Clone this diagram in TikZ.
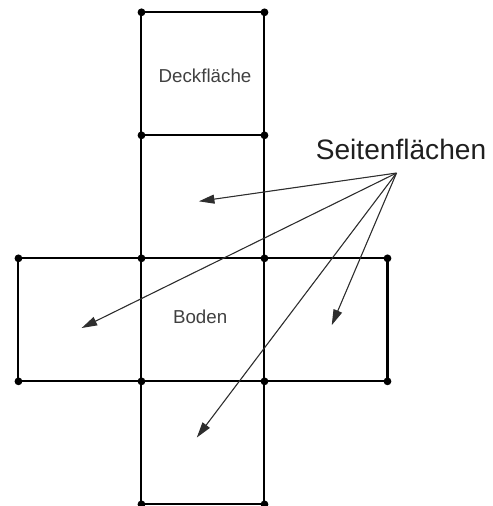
\documentclass[tikz,border=0pt]{standalone}
\usepackage{fontspec}
\setmainfont{Liberation Sans}
\usepackage{tikz}
\usetikzlibrary{arrows.meta,calc}
\tikzset{
  >={Triangle[length=3.8mm,width=2.2mm]},
  netline/.style={line width=1.4pt,line cap=round},
  dot/.style={circle,fill,inner sep=0pt,minimum size=1.9mm},
  face/.style={font=\fontsize{13}{15}\selectfont,text=black!75},
  title/.style={font=\fontsize{19.5}{22}\selectfont,text=black!88},
  pointer/.style={->,line width=0.75pt,draw=black!82,fill=black!82}
}

\begin{document}
\begin{tikzpicture}
  \useasboundingbox (-0.45,-0.04) rectangle (11.57,12.30);

  % Corner points of the net
  \coordinate (b4) at (3,12);  \coordinate (c4) at (6,12);
  \coordinate (b3) at (3,9);   \coordinate (c3) at (6,9);
  \coordinate (a2) at (0,6);   \coordinate (b2) at (3,6);
  \coordinate (c2) at (6,6);   \coordinate (d2) at (9,6);
  \coordinate (a1) at (0,3);   \coordinate (b1) at (3,3);
  \coordinate (c1) at (6,3);   \coordinate (d1) at (9,3);
  \coordinate (b0) at (3,0);   \coordinate (c0) at (6,0);

  % Edges of the net
  \draw[netline] (b4) -- (c4);
  \draw[netline] (b3) -- (c3);
  \draw[netline] (a2) -- (d2);
  \draw[netline] (a1) -- (d1);
  \draw[netline] (b0) -- (c0);
  \draw[netline] (b4) -- (b0);
  \draw[netline] (c4) -- (c0);
  \draw[netline] (a2) -- (a1);
  \draw[netline] (d2) -- (d1);

  % Corner dots
  \foreach \p in {b4,c4,b3,c3,a2,b2,c2,d2,a1,b1,c1,d1,b0,c0}
    \node[dot] (dot-\p) at (\p) {};

  % Face labels
  \node[face] (deck) at ($(b4)!0.5!(c3)+(0.05,-0.05)$) {Deckfläche};
  \node[face] (boden) at ($(b2)!0.5!(c1)+(-0.07,0.08)$) {Boden};

  % Side faces
  \node[title] (seiten) at (9.33,8.66) {Seitenflächen};
  \coordinate (src) at (9.22,8.08);
  \coordinate (s1) at (4.40,7.39);
  \coordinate (s2) at (1.54,4.30);
  \coordinate (s3) at (7.64,4.37);
  \coordinate (s4) at (4.35,1.63);
  \draw[pointer] (src) -- (s1);
  \draw[pointer] (src) -- (s2);
  \draw[pointer] (src) -- (s3);
  \draw[pointer] (src) -- (s4);
\end{tikzpicture}
\end{document}
